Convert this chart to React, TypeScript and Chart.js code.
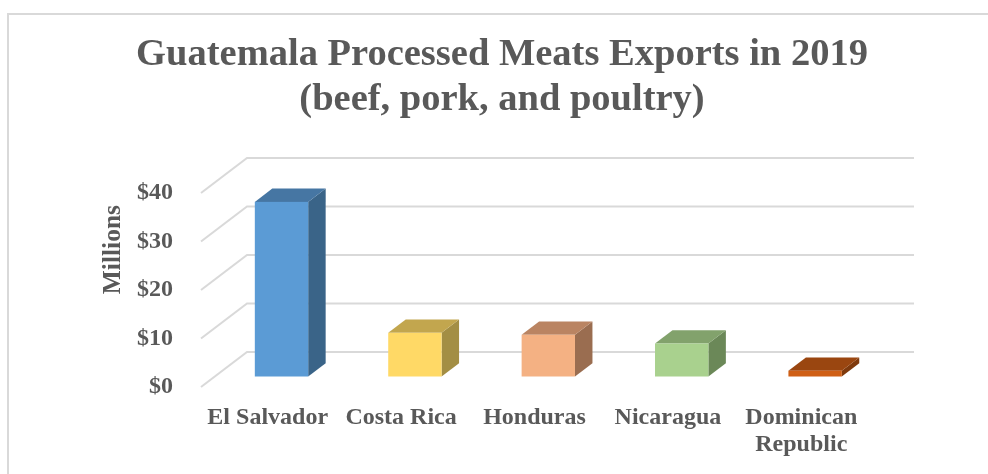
import React, { useEffect, useRef } from "react";
import { Chart, registerables } from "chart.js";

Chart.register(...registerables);

const titleLines = ["Guatemala Processed Meats Exports in 2019", "(beef, pork, and poultry)"];
const categories: (string | string[])[] = ["El Salvador", "Costa Rica", "Honduras", "Nicaragua", ["Dominican", "Republic"]];
const values = [36, 9, 8.6, 6.8, 1.2];
const frontColors = ["#5B9BD5", "#FFD966", "#F4B183", "#A9D18E", "#CF5F15"];
const topColors = ["#4676A3", "#C2A64E", "#BA8462", "#82A26C", "#9A4610"];
const sideColors = ["#3A6488", "#A38E44", "#9A6D50", "#6B8858", "#7F3A0D"];
const yTickValues = [0, 10, 20, 30, 40];
const yAxisTitle = "Millions";

const FONT = "'Liberation Serif', 'Times New Roman', serif";
const TEXT = "#595959";
const GRID = "#d9d9d9";
// depth vector of the 3D floor (px)
const DX = 46;
const DY = -35;
const FRONT_F = 0.3;
const BACK_F = 0.68;
const Y_TITLE_SHIFT = 12;

const threeD = {
  id: "threeD",
  afterLayout(chart: any) {
    const ys = chart.scales.y;
    if (ys && !ys.__shifted) {
      const orig = ys.drawTitle;
      ys.drawTitle = function (...args: any[]) {
        const c = this.ctx;
        c.save();
        c.translate(0, Y_TITLE_SHIFT);
        orig.apply(this, args);
        c.restore();
      };
      ys.__shifted = true;
    }
  },
  beforeDraw(chart: any) {
    const { ctx, width, height } = chart;
    ctx.save();
    ctx.fillStyle = "#ffffff";
    ctx.fillRect(0, 0, width, height);
    ctx.strokeStyle = GRID;
    ctx.lineWidth = 2;
    ctx.beginPath();
    ctx.moveTo(8, height + 5);
    ctx.lineTo(8, 14);
    ctx.lineTo(width + 5, 14);
    ctx.stroke();
    ctx.restore();
  },
  beforeDatasetsDraw(chart: any) {
    const { ctx, chartArea, scales } = chart;
    const y = scales.y;
    ctx.save();
    ctx.strokeStyle = GRID;
    ctx.lineWidth = 2;
    y.ticks.forEach((t: any) => {
      const py = y.getPixelForValue(t.value);
      ctx.beginPath();
      ctx.moveTo(chartArea.left, py);
      ctx.lineTo(chartArea.left + DX, py + DY);
      ctx.lineTo(chartArea.right + DX, py + DY);
      ctx.stroke();
    });
    ctx.restore();
  },
  afterDatasetsDraw(chart: any) {
    const { ctx } = chart;
    const meta = chart.getDatasetMeta(0);
    const fx = DX * FRONT_F, fy = DY * FRONT_F;
    const bx = DX * BACK_F, by = DY * BACK_F;
    const ddx = bx - fx, ddy = by - fy;
    ctx.save();
    meta.data.forEach((bar: any, i: number) => {
      const p = bar.getProps(["x", "y", "base", "width"], true);
      const l = p.x - p.width / 2 + fx;
      const r = p.x + p.width / 2 + fx;
      const t = p.y + fy;
      const b = p.base + fy;
      ctx.fillStyle = sideColors[i];
      ctx.beginPath();
      ctx.moveTo(r, t);
      ctx.lineTo(r + ddx, t + ddy);
      ctx.lineTo(r + ddx, b + ddy);
      ctx.lineTo(r, b);
      ctx.closePath();
      ctx.fill();
      ctx.fillStyle = topColors[i];
      ctx.beginPath();
      ctx.moveTo(l, t);
      ctx.lineTo(l + ddx, t + ddy);
      ctx.lineTo(r + ddx, t + ddy);
      ctx.lineTo(r, t);
      ctx.closePath();
      ctx.fill();
      ctx.fillStyle = frontColors[i];
      ctx.fillRect(l, t, r - l, b - t);
    });
    ctx.restore();
  },
};

export default function App() {
  const ref = useRef<HTMLCanvasElement | null>(null);
  useEffect(() => {
    if (!ref.current) return;
    const chart = new Chart(ref.current, {
      type: "bar",
      data: {
        labels: categories as any,
        datasets: [
          {
            data: values,
            backgroundColor: "rgba(0,0,0,0)",
            borderWidth: 0,
            barPercentage: 0.8,
            categoryPercentage: 0.5,
            yAxisID: "y",
          },
        ],
      },
      options: {
        responsive: false,
        animation: false,
        devicePixelRatio: 1,
        layout: { padding: { left: 16, right: 0, top: 0, bottom: 0 } },
        plugins: {
          legend: { display: false },
          tooltip: { enabled: false },
          title: {
            display: true,
            text: titleLines,
            color: TEXT,
            font: { family: FONT, size: 38.5, weight: "bold", lineHeight: 1.17 },
            padding: { top: 32.5, bottom: 70.4 },
          },
        },
        scales: {
          x: {
            type: "category",
            grid: { display: false },
            border: { display: false },
            ticks: {
              color: TEXT,
              font: { family: FONT, size: 24, weight: "bold", lineHeight: 1.1 },
              padding: 10,
              maxRotation: 0,
              autoSkip: false,
            },
            afterFit: (s: any) => {
              s.height = 87;
            },
          },
          y: {
            min: 0,
            max: 40,
            afterBuildTicks: (s: any) => {
              s.ticks = yTickValues.map((v) => ({ value: v }));
            },
            grid: { display: false, drawTicks: false },
            border: { display: false },
            ticks: {
              color: TEXT,
              font: { family: FONT, size: 24, weight: "bold" },
              padding: 28,
              callback: (v: any) => "$" + v,
            },
            title: {
              display: true,
              text: yAxisTitle,
              color: TEXT,
              align: "end",
              font: { family: FONT, size: 25.5, weight: "bold", lineHeight: 1.2 },
              padding: { top: 82, bottom: 0 },
            },
            afterFit: (s: any) => {
              s.width = 185;
            },
          },
          yr: {
            position: "right",
            min: 0,
            max: 1,
            grid: { display: false, drawTicks: false },
            border: { display: false },
            ticks: { display: false },
            afterFit: (s: any) => {
              s.width = 120;
            },
          },
        },
      },
      plugins: [threeD],
    });
    return () => chart.destroy();
  }, []);
  return (
    <div style={{ position: "absolute", left: 0, top: 0, width: 988, height: 474 }}>
      <canvas ref={ref} width={988} height={474} style={{ display: "block" }} />
    </div>
  );
}
